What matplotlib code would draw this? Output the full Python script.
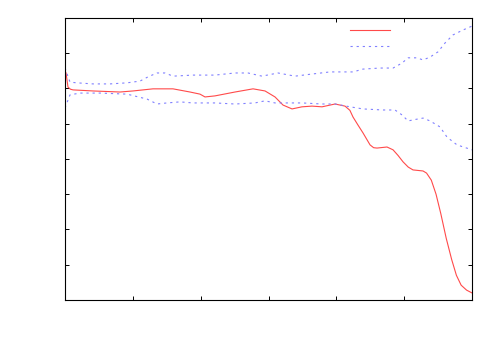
import matplotlib
matplotlib.use('Agg')
import matplotlib.pyplot as plt

# main curve (solid red)
red_x = [0, 0.015, 0.044, 0.08, 0.118, 0.413, 0.811, 1.003, 1.297, 1.592, 1.843, 1.99, 2.064,
         2.211, 2.506, 2.772, 2.949, 3.096, 3.214, 3.347, 3.494, 3.641, 3.789, 3.981,
         4.128, 4.20, 4.246, 4.32, 4.393, 4.497, 4.55, 4.600, 4.747, 4.836, 4.91, 4.983,
         5.06, 5.130, 5.278, 5.33, 5.40, 5.47, 5.54, 5.62, 5.70, 5.77, 5.84, 5.92, 6.0]
red_y = [6.5, 6.44, 6.04, 5.98, 5.96, 5.93, 5.90, 5.93, 5.99, 5.99, 5.90, 5.84, 5.76,
         5.79, 5.90, 5.99, 5.93, 5.76, 5.53, 5.42, 5.48, 5.50, 5.48, 5.56,
         5.50, 5.38, 5.19, 4.96, 4.74, 4.40, 4.32, 4.31, 4.34, 4.26, 4.10, 3.92,
         3.77, 3.69, 3.66, 3.60, 3.40, 3.00, 2.45, 1.75, 1.15, 0.70, 0.42, 0.28, 0.20]

# upper band (dotted blue)
up_x = [0, 0.074, 0.177, 0.413, 0.663, 0.914, 1.106, 1.224, 1.356, 1.474, 1.592, 1.887,
        2.211, 2.506, 2.698, 2.904, 3.140, 3.391, 3.641, 3.907, 4.246, 4.393, 4.644,
        4.836, 4.968, 5.057, 5.189, 5.278, 5.381, 5.499, 5.602, 5.720, 5.868, 6.0]
up_y = [6.58, 6.18, 6.16, 6.13, 6.13, 6.16, 6.21, 6.33, 6.44, 6.44, 6.35, 6.38,
        6.38, 6.44, 6.44, 6.35, 6.44, 6.35, 6.41, 6.47, 6.47, 6.55, 6.58,
        6.58, 6.72, 6.87, 6.87, 6.81, 6.89, 7.04, 7.29, 7.52, 7.66, 7.77]

# lower band (dotted blue)
lo_x = [0, 0.074, 0.221, 0.516, 0.914, 1.209, 1.356, 1.504, 1.695, 1.887, 2.211, 2.506,
        2.801, 2.949, 3.096, 3.288, 3.494, 3.789, 3.981, 4.202, 4.393, 4.688, 4.865,
        4.968, 5.057, 5.189, 5.278, 5.381, 5.528, 5.632, 5.779, 6.0]
lo_y = [5.45, 5.82, 5.87, 5.87, 5.84, 5.70, 5.56, 5.59, 5.62, 5.59, 5.59, 5.56,
        5.59, 5.65, 5.59, 5.59, 5.59, 5.56, 5.56, 5.48, 5.42, 5.39, 5.39,
        5.25, 5.08, 5.13, 5.16, 5.08, 4.91, 4.62, 4.40, 4.26]

fig = plt.figure(figsize=(5, 3.5), dpi=100)
ax = fig.add_axes([0.13, 0.1429, 0.814, 0.8057])

dots = (0, (2, 3.5))
blue = '#8080ff'
ln_red, = ax.plot(red_x, red_y, color='#ff4a4a', lw=0.8)
ln_blue, = ax.plot(up_x, up_y, color=blue, lw=0.8, linestyle=dots)
ax.plot(lo_x, lo_y, color=blue, lw=0.8, linestyle=dots)

ax.set_xlim(0, 6)
ax.set_ylim(0, 8)
ax.set_xticks(range(0, 7))
ax.set_yticks(range(0, 9))
ax.tick_params(direction='in', length=3, width=0.7, top=True, right=True,
               labelbottom=False, labelleft=False)
for s in ax.spines.values():
    s.set_linewidth(0.8)

ax.legend([ln_red, ln_blue], ['', ''], loc='upper left', bbox_to_anchor=(0.70, 0.98),
          frameon=False, borderpad=0, borderaxespad=0, handlelength=2.9,
          handletextpad=0, labelspacing=0.15, fontsize=10)

plt.savefig('out.png', dpi=100)
plt.close(fig)
